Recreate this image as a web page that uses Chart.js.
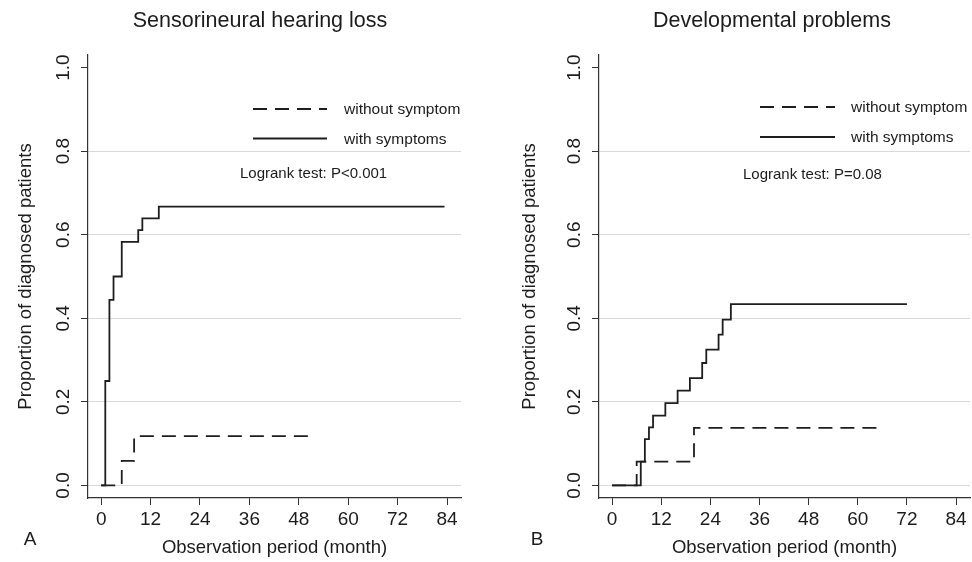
<!DOCTYPE html>
<html>
<head>
<meta charset="utf-8">
<script src="https://cdn.jsdelivr.net/npm/chart.js@4.4.0/dist/chart.umd.min.js"></script>
<style>
  html, body { margin: 0; padding: 0; background: #fff; }
  #wrap { position: relative; width: 972px; height: 562px; }
  .panel { position: absolute; top: 0; width: 486px; height: 562px; }
</style>
</head>
<body>
<div id="wrap">
  <div class="panel" style="left:0"><canvas id="chartA" width="486" height="562"></canvas></div>
  <div class="panel" style="left:486px"><canvas id="chartB" width="486" height="562"></canvas></div>
</div>
<script>
// ticks shared by both panels
const xTicks = [0, 12, 24, 36, 48, 60, 72, 84];
const yTicks = [0, 0.2, 0.4, 0.6, 0.8, 1.0];

// A: sensorineural hearing loss (months, cumulative proportion)
const hearingWithTime = [0, 1, 2, 3, 5, 9, 10, 14, 83.4];
const hearingWithProp = [0, 0.25, 0.444, 0.5, 0.583, 0.611, 0.639, 0.667, 0.667];
const hearingWithoutTime = [0, 5, 8, 51];
const hearingWithoutProp = [0, 0.059, 0.118, 0.118];

// B: developmental problems
const devWithTime = [0, 7, 8, 9, 10, 13, 16, 19, 22, 23, 26, 27, 29, 72];
const devWithProp = [0, 0.057, 0.111, 0.139, 0.167, 0.197, 0.227, 0.257, 0.293, 0.325, 0.361, 0.397, 0.434, 0.434];
const devWithoutTime = [0, 6, 20, 66.5];
const devWithoutProp = [0, 0.057, 0.138, 0.138];

const FONT = '"Liberation Sans", Arial, Helvetica, sans-serif';
const INK = "#1c1c1c";
const LINE = "#1e1e1e";

function points(times, props) {
  return times.map((t, i) => ({ x: t, y: props[i] }));
}

// title, legend and logrank note drawn on top of the plot
const panelText = {
  id: "panelText",
  afterDraw(chart, _args, opts) {
    const { ctx } = chart;
    ctx.save();
    ctx.fillStyle = INK;
    (opts.texts || []).forEach((t) => {
      ctx.font = t.size + "px " + FONT;
      ctx.textAlign = t.align || "left";
      ctx.textBaseline = "middle";
      ctx.fillText(t.text, t.x, t.y);
    });

    const lg = opts.legend;
    if (lg) {
      chart.data.datasets.forEach((ds, i) => {
        const y = lg.y + i * lg.gap;
        ctx.strokeStyle = ds.borderColor;
        ctx.lineWidth = ds.borderWidth;
        ctx.setLineDash(ds.borderDash || []);
        ctx.beginPath();
        ctx.moveTo(lg.x1, y);
        ctx.lineTo(lg.x2, y);
        ctx.stroke();
        ctx.setLineDash([]);
        ctx.font = lg.size + "px " + FONT;
        ctx.textAlign = "left";
        ctx.textBaseline = "middle";
        ctx.fillText(ds.label, lg.textX, y + 1);
      });
    }
    ctx.restore();
  },
};

function makeChart(id, cfg) {
  return new Chart(document.getElementById(id), {
    type: "line",
    data: {
      datasets: [
        {
          label: "without symptom",
          data: points(cfg.withoutTime, cfg.withoutProp),
          stepped: "before",
          borderColor: LINE,
          borderWidth: 1.8,
          borderDash: [14, 8],
          pointRadius: 0,
          fill: false,
        },
        {
          label: "with symptoms",
          data: points(cfg.withTime, cfg.withProp),
          stepped: "before",
          borderColor: LINE,
          borderWidth: 1.8,
          pointRadius: 0,
          fill: false,
        },
      ],
    },
    plugins: [panelText],
    options: {
      responsive: false,
      animation: false,
      layout: { padding: { left: cfg.padLeft, right: cfg.padRight, top: 55, bottom: 0 } },
      plugins: {
        legend: { display: false },
        tooltip: { enabled: false },
        panelText: { texts: cfg.texts, legend: cfg.legend },
      },
      scales: {
        x: {
          type: "linear",
          min: -3.2,
          max: 87.4,
          afterBuildTicks: (s) => { s.ticks = xTicks.map((v) => ({ value: v })); },
          afterFit: (s) => { s.height = 64; },
          ticks: {
            autoSkip: false,
            maxRotation: 0,
            padding: 3,
            color: INK,
            font: { family: FONT, size: 19 },
            callback: (v) => String(v),
          },
          grid: { drawOnChartArea: false, tickLength: 7, tickColor: "#333", tickWidth: 1 },
          border: { color: "#333", width: 1.2 },
          title: {
            display: true,
            text: "Observation period (month)",
            color: INK,
            font: { family: FONT, size: 18.5 },
            padding: { top: 0, bottom: 3 },
          },
        },
        y: {
          type: "linear",
          min: -0.03,
          max: 1.03,
          afterBuildTicks: (s) => { s.ticks = yTicks.map((v) => ({ value: v })); },
          afterFit: (s) => { s.width = cfg.axisWidth; },
          ticks: {
            minRotation: 90,
            maxRotation: 90,
            crossAlign: "center",
            padding: 4,
            color: INK,
            font: { family: FONT, size: 19 },
            callback: (v) => v.toFixed(1),
          },
          grid: {
            color: (c) => (c.tick && c.tick.value === 1 ? "rgba(0,0,0,0)" : "#d9d9d9"),
            lineWidth: 1,
            tickLength: 7,
            tickColor: "#333",
            tickWidth: 1,
          },
          border: { color: "#333", width: 1.2 },
          title: {
            display: true,
            text: "Proportion of diagnosed patients",
            color: INK,
            font: { family: FONT, size: 18.5 },
            padding: { top: 15, bottom: 0 },
          },
        },
      },
    },
  });
}

makeChart("chartA", {
  withTime: hearingWithTime,
  withProp: hearingWithProp,
  withoutTime: hearingWithoutTime,
  withoutProp: hearingWithoutProp,
  padLeft: 0,
  padRight: 25,
  axisWidth: 88,
  texts: [
    { text: "Sensorineural hearing loss", x: 260, y: 21, size: 21.5, align: "center" },
    { text: "Logrank test: P<0.001", x: 240, y: 174, size: 15 },
    { text: "A", x: 30, y: 540, size: 19, align: "center" },
  ],
  legend: { x1: 253, x2: 327, y: 109, gap: 29.5, textX: 344, size: 15.5 },
});

makeChart("chartB", {
  withTime: devWithTime,
  withProp: devWithProp,
  withoutTime: devWithoutTime,
  withoutProp: devWithoutProp,
  padLeft: 18,
  padRight: 2,
  axisWidth: 95,
  texts: [
    { text: "Developmental problems", x: 286, y: 21, size: 21.5, align: "center" },
    { text: "Logrank test: P=0.08", x: 257, y: 175, size: 15 },
    { text: "B", x: 51, y: 540, size: 19, align: "center" },
  ],
  legend: { x1: 274, x2: 349, y: 107, gap: 30, textX: 365, size: 15.5 },
});
</script>
</body>
</html>
